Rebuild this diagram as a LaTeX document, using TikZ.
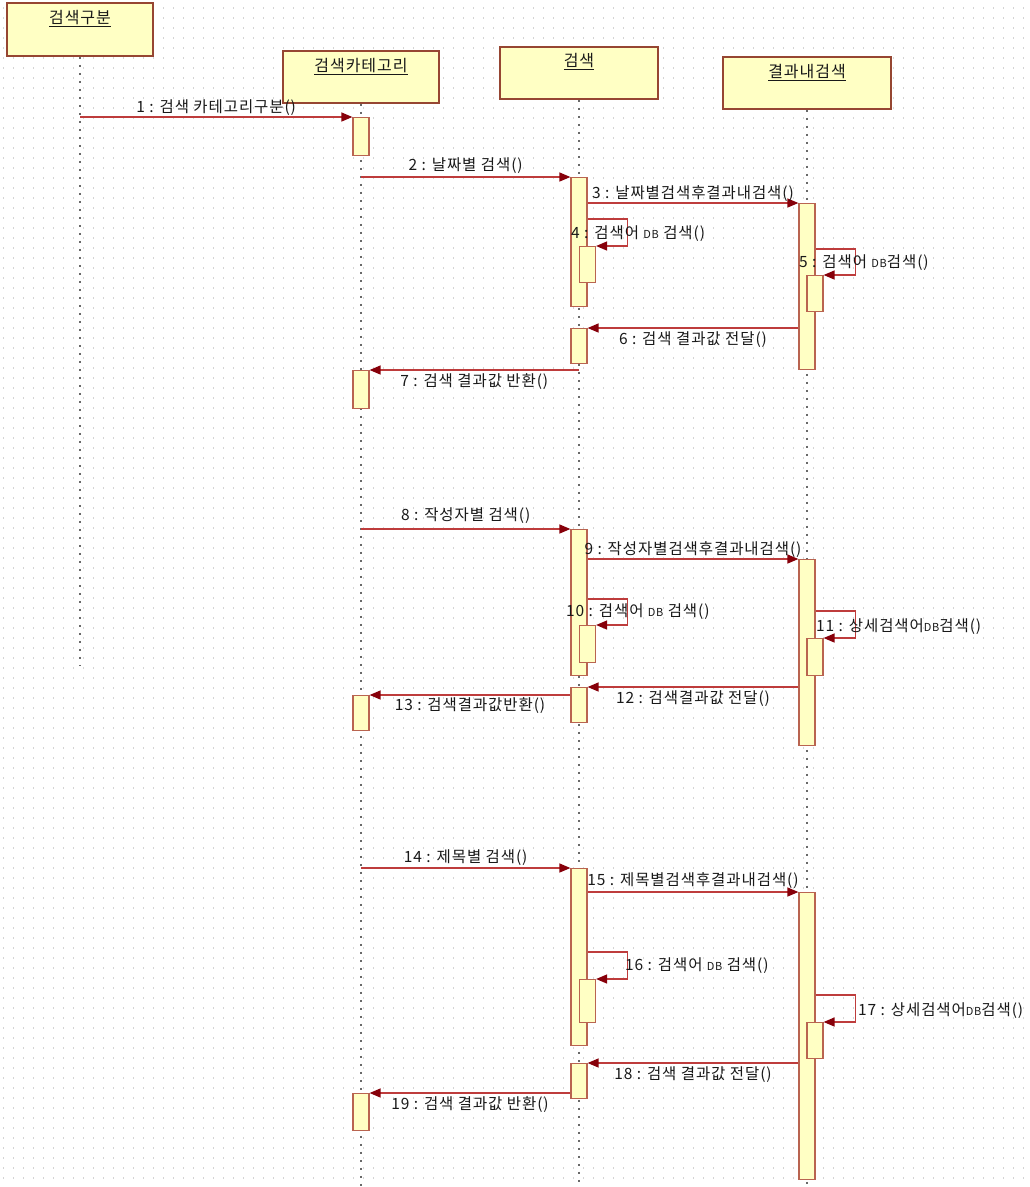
\documentclass[tikz,border=0pt]{standalone}
\usepackage{fontspec}
\newfontfamily\kr[LetterSpace=6]{Noto Sans CJK KR}
\newcommand{\smdb}{{\fontsize{11}{12}\selectfont DB}}
\usetikzlibrary{arrows.meta,calc}
\definecolor{boxfill}{RGB}{255,255,196}
\definecolor{boxline}{RGB}{150,70,50}
\definecolor{actline}{RGB}{185,100,80}
\definecolor{msgline}{RGB}{190,60,60}
\definecolor{tipcol}{RGB}{135,0,10}
\definecolor{txt}{RGB}{25,25,25}
\definecolor{lifecol}{RGB}{105,105,105}
\definecolor{gridcol}{RGB}{212,212,212}
\begin{document}
\begin{tikzpicture}[x=1pt,y=-1pt,
  head/.style={draw=boxline,fill=boxfill,line width=1.8pt,inner sep=0pt},
  headname/.style={font=\kr\fontsize{16}{18}\selectfont,text=txt,inner sep=0pt},
  act/.style={draw=actline,fill=boxfill,line width=1.2pt,minimum width=16pt,inner sep=0pt},
  life/.style={lifecol,line width=1.8pt,dash pattern=on 1.8pt off 6.2pt},
  msg/.style={draw=msgline,line width=1.3pt,-{Triangle[length=11pt,width=9pt,color=tipcol]}},
  lab/.style={font=\kr\fontsize{15.5}{17}\selectfont,text=txt,inner sep=1pt}
]
\useasboundingbox (0,0) rectangle (1029,1187);
\fill[white] (0,0) rectangle (1029,1187);
% background dot grid
\foreach \yy in {8,18,...,1187}
  \draw[gridcol,line width=1.2pt,dash pattern=on 1.2pt off 8.8pt] (3,\yy) -- (1029,\yy);

% lifeline heads
\node[head,minimum width=146pt,minimum height=53pt] (h1) at (80,29.5) {};
\node[head,minimum width=156pt,minimum height=52pt] (h2) at (361,77) {};
\node[head,minimum width=158pt,minimum height=52pt] (h3) at (579,73) {};
\node[head,minimum width=168pt,minimum height=52pt] (h4) at (807,83) {};

% lifeline ends
\coordinate (e1) at (80,665);
\coordinate (e2) at (361,1187);
\coordinate (e3) at (579,1187);
\coordinate (e4) at (807,1187);
\draw[life] (h1.south) -- (e1);
\draw[life] (h2.south) -- (e2);
\draw[life] (h3.south) -- (e3);
\draw[life] (h4.south) -- (e4);

% activations
\node[act,minimum height=38pt,anchor=north] (c1) at (361,117) {};
\node[act,minimum height=38pt,anchor=north] (c2) at (361,370) {};
\node[act,minimum height=35pt,anchor=north] (c3) at (361,695) {};
\node[act,minimum height=37pt,anchor=north] (c4) at (361,1093) {};

\node[act,minimum height=129pt,anchor=north] (s1) at (579,177) {};
\node[act,minimum height=36pt,anchor=north] (s1n) at (587.5,246) {};
\node[act,minimum height=35pt,anchor=north] (s1r) at (579,328) {};
\node[act,minimum height=146pt,anchor=north] (s2) at (579,529) {};
\node[act,minimum height=37pt,anchor=north] (s2n) at (587.5,625) {};
\node[act,minimum height=35pt,anchor=north] (s2r) at (579,687) {};
\node[act,minimum height=177pt,anchor=north] (s3) at (579,868) {};
\node[act,minimum height=43pt,anchor=north] (s3n) at (587.5,979) {};
\node[act,minimum height=35pt,anchor=north] (s3r) at (579,1063) {};

\node[act,minimum height=166pt,anchor=north] (r1) at (807,203) {};
\node[act,minimum height=36pt,anchor=north] (r1n) at (815,275) {};
\node[act,minimum height=186pt,anchor=north] (r2) at (807,559) {};
\node[act,minimum height=37pt,anchor=north] (r2n) at (815,638) {};
\node[act,minimum height=287pt,anchor=north] (r3) at (807,892) {};
\node[act,minimum height=36pt,anchor=north] (r3n) at (815,1022) {};

% head names
\node[headname] (n1) at (80,19) {\underline{검색구분}};
\node[headname] (n2) at (361,67) {\underline{검색카테고리}};
\node[headname] (n3) at (579,62) {\underline{검색}};
\node[headname] (n4) at (807,73) {\underline{결과내검색}};

% first scenario
\draw[msg] (h1.south |- c1.north) -- node[lab,above=0pt] (l1) {1 : 검색 카테고리구분()} (c1.north west);
\draw[msg] (h2.south |- s1.north) -- node[lab,above=2pt] (l2) {2 : 날짜별 검색()} (s1.north west);
\draw[msg] (s1.east |- r1.north) -- node[lab,above=0pt] (l3) {3 : 날짜별검색후결과내검색()} (r1.north west);
\draw[msg] (s1.east |- 0,219) -- ++(40,0) |- (s1n.north east);
\node[lab,anchor=west] (l4) at (570,234) {4 : 검색어 \smdb{} 검색()};
\draw[msg] (r1.east |- 0,249) -- ++(40,0) |- (r1n.north east);
\node[lab,anchor=west] (l5) at (798,263) {5 : 검색어 \smdb{}검색()};
\draw[msg] (r1.west |- s1r.north) -- node[lab,below=2pt] (l6) {6 : 검색 결과값 전달()} (s1r.north east);
\draw[msg] (s1r.south |- c2.north) -- node[lab,below=2pt] (l7) {7 : 검색 결과값 반환()} (c2.north east);

% second scenario
\draw[msg] (h2.south |- s2.north) -- node[lab,above=4pt] (l8) {8 : 작성자별 검색()} (s2.north west);
\draw[msg] (s2.east |- r2.north) -- node[lab,above=0pt] (l9) {9 : 작성자별검색후결과내검색()} (r2.north west);
\draw[msg] (s2.east |- 0,599) -- ++(40,0) |- (s2n.north east);
\node[lab,anchor=west] (l10) at (565,612) {10 : 검색어 \smdb{} 검색()};
\draw[msg] (r2.east |- 0,611) -- ++(40,0) |- (r2n.north east);
\node[lab,anchor=west] (l11) at (815,627) {11 : 상세검색어\smdb{}검색()};
\draw[msg] (r2.west |- s2r.north) -- node[lab,below=2pt] (l12) {12 : 검색결과값 전달()} (s2r.north east);
\draw[msg] (s2r.west |- c3.north) -- node[lab,below=1pt] (l13) {13 : 검색결과값반환()} (c3.north east);

% third scenario
\draw[msg] (h2.south |- s3.north) -- node[lab,above=1pt] (l14) {14 : 제목별 검색()} (s3.north west);
\draw[msg] (s3.east |- r3.north) -- node[lab,above=2pt] (l15) {15 : 제목별검색후결과내검색()} (r3.north west);
\draw[msg] (s3.east |- 0,952) -- ++(40,0) |- (s3n.north east);
\node[lab,anchor=west] (l16) at (624,966) {16 : 검색어 \smdb{} 검색()};
\draw[msg] (r3.east |- 0,995) -- ++(40,0) |- (r3n.north east);
\node[lab,anchor=west] (l17) at (857,1011) {17 : 상세검색어\smdb{}검색()};
\draw[msg] (r3.west |- s3r.north) -- node[lab,below=2pt] (l18) {18 : 검색 결과값 전달()} (s3r.north east);
\draw[msg] (s3r.west |- c4.north) -- node[lab,below=2pt] (l19) {19 : 검색 결과값 반환()} (c4.north east);
\end{tikzpicture}
\end{document}
